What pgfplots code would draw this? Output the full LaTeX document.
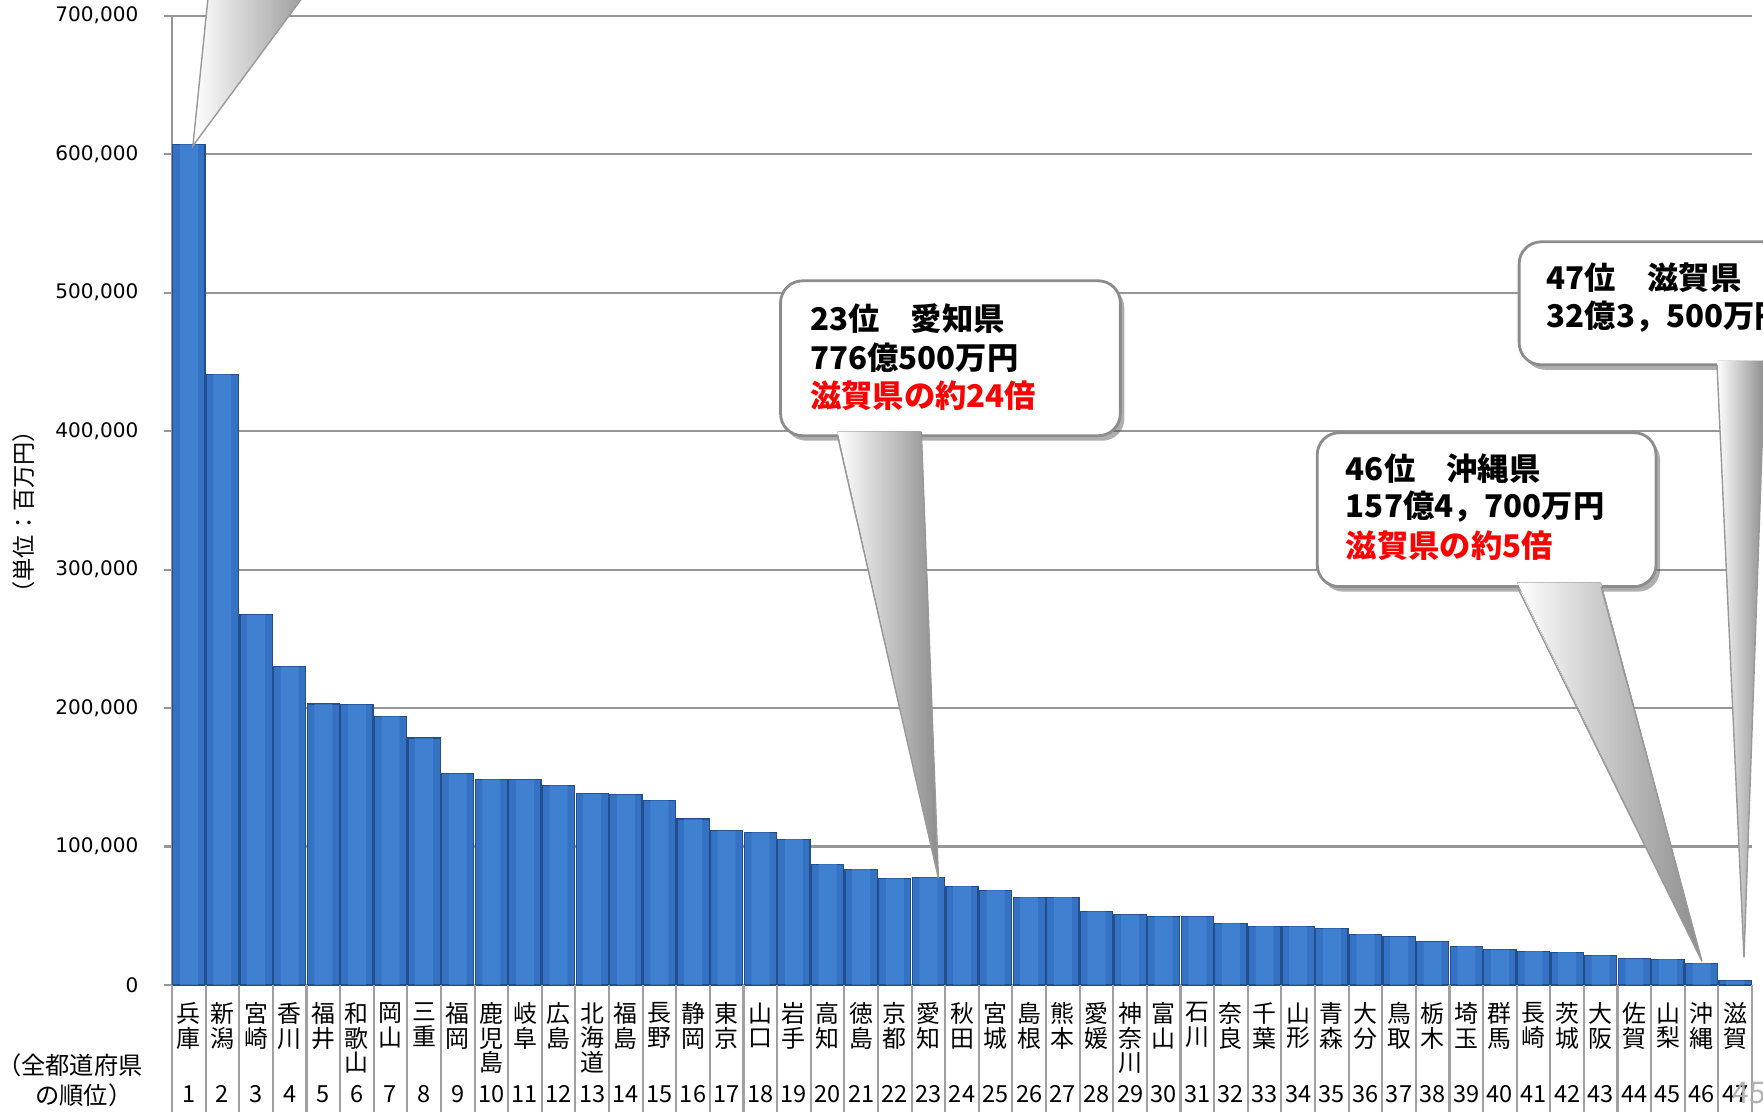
\documentclass[border=0pt]{standalone}
\usepackage{fontspec}
\setmainfont{Noto Sans CJK JP}
\newfontfamily\dejavu{DejaVu Sans}
\usepackage{pgfplots}
\pgfplotsset{compat=1.18}
\usepackage{pgfplotstable}
\usetikzlibrary{shadows}
\definecolor{barM}{RGB}{54,114,196}
\definecolor{barHi}{RGB}{72,140,220}
\definecolor{barEdge}{RGB}{34,78,140}
\definecolor{gridgray}{RGB}{150,150,150}
\definecolor{sepgray}{RGB}{160,160,160}
\definecolor{cred}{RGB}{255,0,0}
\newcommand\cfont{\bfseries\fontsize{8.9}{10}\selectfont}
\pgfplotstableread{
rank value
1 607000
2 441000
3 267500
4 230000
5 203000
6 202400
7 194000
8 178300
9 152600
10 148500
11 148200
12 144200
13 138100
14 137400
15 133300
16 119800
17 111300
18 110300
19 105300
20 87200
21 83600
22 77000
23 77605
24 71400
25 68500
26 63400
27 63400
28 53100
29 50900
30 49500
31 49300
32 44600
33 42500
34 42400
35 40800
36 36700
37 35000
38 31200
39 28000
40 25600
41 24400
42 23700
43 21300
44 19100
45 18600
46 15747
47 3235
}\datatable
\begin{document}
\begin{tikzpicture}
\useasboundingbox (0,0) rectangle (17.63cm,11.12cm);
\clip (0,0) rectangle (17.63cm,11.12cm);
\begin{axis}[
  at={(1.72cm,1.27cm)}, anchor=south west,
  scale only axis, width=15.80cm, height=9.693cm,
  xmin=0.5, xmax=47.5, ymin=0, ymax=700000,
  axis x line*=bottom, axis y line*=left,
  axis line style={draw=gridgray, line width=0.6pt},
  ytick={0,100000,...,700000},
  ymajorgrids, major grid style={draw=gridgray, line width=0.6pt},
  tick align=outside, major tick length=0.08cm,
  ytick style={draw=gridgray, line width=0.6pt},
  xtick={1,...,47},
  xtick style={draw=none},
  xticklabels={{兵\\庫},{新\\潟},{宮\\崎},{香\\川},{福\\井},{和\\歌\\山},{岡\\山},{三\\重},{福\\岡},{鹿\\児\\島},{岐\\阜},{広\\島},{北\\海\\道},{福\\島},{長\\野},{静\\岡},{東\\京},{山\\口},{岩\\手},{高\\知},{徳\\島},{京\\都},{愛\\知},{秋\\田},{宮\\城},{島\\根},{熊\\本},{愛\\媛},{神\\奈\\川},{富\\山},{石\\川},{奈\\良},{千\\葉},{山\\形},{青\\森},{大\\分},{鳥\\取},{栃\\木},{埼\\玉},{群\\馬},{長\\崎},{茨\\城},{大\\阪},{佐\\賀},{山\\梨},{沖\\縄},{滋\\賀}},
  xticklabel style={align=center, anchor=north, inner sep=0pt, yshift=-0.09cm, font=\fontsize{6.8}{7.0}\selectfont},
  scaled y ticks=false,
  yticklabel style={/pgf/number format/.cd, fixed, precision=0, 1000 sep={,}, assume math mode=true, /tikz/.cd, font=\dejavu\fontsize{5.7}{6}\selectfont, anchor=east, inner sep=0pt, xshift=-0.25cm},
  clip=false,
]
\addplot[ybar, bar width=0.322cm, draw=barEdge, line width=0.35pt, fill=barM] table[x=rank, y=value]{\datatable};
\addplot[ybar, bar width=0.18cm, draw=none, fill=barHi, fill opacity=0.55] table[x=rank, y=value]{\datatable};
\pgfplotsinvokeforeach{0.5,1.5,...,47.5}{
  \draw[sepgray, line width=0.6pt] (axis cs:#1,0) -- ([yshift=-1.5cm]axis cs:#1,0);
}
\pgfplotsinvokeforeach{1,...,47}{
  \node[font=\fontsize{6.7}{7}\selectfont, inner sep=0pt, yshift=-1.09cm] at (axis cs:#1,0) {#1};
}
\end{axis}
\begin{scope}[x=0.01cm, y=-0.01cm, yshift=11.12cm]
  \tikzset{
    cbox/.style={fill=white, draw=black!45, line width=0.8pt, rounded corners=0.22cm,
      drop shadow={shadow xshift=0.04cm, shadow yshift=-0.05cm, opacity=0.45, fill=black!70}},
    ctail/.style={left color=white, right color=black!45},
    cedge/.style={draw=black!40, line width=0.4pt},
    ctext/.style={anchor=west, inner sep=0pt, font=\cfont}
  }
  % axis labels
  \node[rotate=90, inner sep=0pt, font=\fontsize{6.6}{6.6}\selectfont] at (24,512) {（単位：百万円）};
  \node[inner sep=0pt, font=\fontsize{6.9}{6.9}\selectfont] at (70,1066) {（全都道府県};
  \node[inner sep=0pt, font=\fontsize{6.9}{6.9}\selectfont] at (84,1096) {の順位）};
  % callout for rank 1 (box outside the picture)
  \fill[ctail] (211,-30) -- (323,-30) -- (193,146) -- cycle;
  \draw[cedge] (211,-30) -- (193,146) -- (323,-30);
  % callout 23
  \draw[cbox] (781,281) rectangle (1121,436);
  \fill[ctail] (838,432) -- (922,432) -- (939,879) -- cycle;
  \draw[cedge] (838,436) -- (939,879) -- (922,436);
  \node[ctext] at (810,319) {23位　愛知県};
  \node[ctext] at (810,358) {776億500万円};
  \node[ctext, text=cred] at (810,396) {滋賀県の約24倍};
  % callout 46
  \draw[cbox] (1318,433) rectangle (1657,587);
  \fill[ctail] (1518,583) -- (1602,583) -- (1703,962) -- cycle;
  \draw[cedge] (1518,587) -- (1703,962) -- (1602,587);
  \node[ctext] at (1346,469) {46位　沖縄県};
  \node[ctext] at (1346,507) {157億4，700万円};
  \node[ctext, text=cred] at (1346,546) {滋賀県の約5倍};
  % callout 47
  \draw[cbox] (1520,242) rectangle (1820,365);
  \fill[ctail] (1718,361) -- (1766,361) -- (1745,958) -- cycle;
  \draw[cedge] (1718,365) -- (1745,958) -- (1766,365);
  \node[ctext] at (1547,278) {47位　滋賀県};
  \node[ctext] at (1547,317) {32億3，500万円};
  % page number
  \node[inner sep=0pt, text=black!30, font=\fontsize{8.5}{8.5}\selectfont] at (1750,1094) {45};
\end{scope}
\end{tikzpicture}
\end{document}
